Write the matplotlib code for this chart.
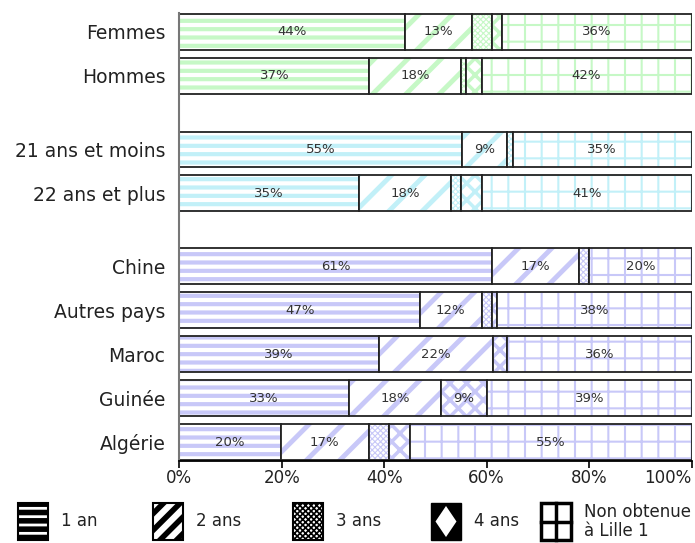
import numpy as np
import matplotlib
matplotlib.use('Agg')
import matplotlib.pyplot as plt
from matplotlib.patches import Rectangle, Polygon

plt.rcParams['font.family'] = ['DejaVu Sans']

# --- Donnees --- #
categories = ['Femmes', 'Hommes', '21 ans et moins', '22 ans et plus',
              'Chine', 'Autres pays', 'Maroc', 'Guinée', 'Algérie']
y_pos = [0, 1, 2.67, 3.67, 5.33, 6.33, 7.33, 8.33, 9.33]
groupe = [0, 0, 1, 1, 2, 2, 2, 2, 2]

duree = ['1 an', '2 ans', '3 ans', '4 ans', 'Non obtenue\nà Lille 1']

un_an = [44.0, 37.1, 55.1, 35.1, 61.0, 47.0, 39.0, 33.1, 19.8]
deux_ans = [13.1, 17.9, 8.9, 17.9, 17.1, 12.0, 22.2, 18.0, 17.2]
trois_ans = [4.0, 1.0, 1.1, 2.0, 1.9, 2.1, 0.0, 0.0, 4.0]
quatre_ans = [1.9, 3.0, 0.0, 4.1, 0.0, 1.0, 2.8, 9.0, 4.0]
non_obtenue = [37.0, 41.0, 34.9, 40.9, 20.0, 37.9, 36.0, 39.9, 55.0]

# etiquettes affichees dans les barres ('' = pas d'etiquette)
lab_un = ['44%', '37%', '55%', '35%', '61%', '47%', '39%', '33%', '20%']
lab_deux = ['13%', '18%', '9%', '18%', '17%', '12%', '22%', '18%', '17%']
lab_trois = ['', '', '', '', '', '', '', '', '']
lab_quatre = ['', '', '', '', '', '', '', '9%', '']
lab_non = ['36%', '42%', '35%', '41%', '20%', '38%', '36%', '39%', '55%']

xticks = [0, 20, 40, 60, 80, 100]
xticklabels = ['0%', '20%', '40%', '60%', '80%', '100%']

# --- Styles --- #
couleurs = ['#c6f8c6', '#c2f0f8', '#c8c8f8']
hatches = ['--', '/', 'xxxxxx', 'xx', '+']
hatch_lw = [3.0, 3.5, 0.8, 2.5, 1.5]

series = [un_an, deux_ans, trois_ans, quatre_ans, non_obtenue]
labels = [lab_un, lab_deux, lab_trois, lab_quatre, lab_non]

fig = plt.figure(figsize=(6.95, 5.43), dpi=100)
ax = fig.add_axes([0.258, 0.151, 0.737, 0.825])

bar_h = 0.81
left = np.zeros(len(categories))
for k, (vals, labs) in enumerate(zip(series, labels)):
    vals = np.array(vals)
    for i in range(len(categories)):
        if vals[i] <= 0:
            continue
        p = ax.barh(y_pos[i], vals[i], left=left[i], height=bar_h, color='white',
                    edgecolor=couleurs[groupe[i]], hatch=hatches[k], linewidth=0)
        for r in p:
            if hasattr(r, 'set_hatch_linewidth'):
                r.set_hatch_linewidth(hatch_lw[k])
        ax.barh(y_pos[i], vals[i], left=left[i], height=bar_h, fill=False,
                edgecolor='#222222', linewidth=1.3)
        if labs[i]:
            ax.text(left[i] + vals[i] / 2, y_pos[i], labs[i], ha='center', va='center',
                    fontsize=9.5, color='#333333')
    left += vals

ax.set_xlim(0, 100)
ax.set_ylim(9.76, -0.43)
ax.set_yticks(y_pos)
ax.set_yticklabels(categories, fontsize=13.5, color='#222222')
ax.tick_params(axis='y', length=0, pad=10)
ax.set_xticks(xticks)
ax.set_xticklabels(xticklabels, fontsize=12, color='#222222')
ax.get_xticklabels()[-1].set_horizontalalignment('right')
ax.tick_params(axis='x', length=5, width=1.2, pad=1)
ax.spines['top'].set_visible(False)
ax.spines['right'].set_visible(False)
ax.spines['left'].set_color('#777777')
ax.spines['left'].set_linewidth(1.5)
ax.spines['bottom'].set_linewidth(1.3)

# --- Legende (motifs noirs) --- #
W, H = 695.0, 543.0
leg_x = [18, 153, 293, 431, 541]
leg_hatch = ['--', '//', 'xxxxxx', None, None]
leg_lw = [4.0, 4.0, 1.2, 0, 0]
for k in range(5):
    x0 = leg_x[k] / W
    y0 = 1 - 540 / H
    w = 30 / W
    h = 37 / H
    if k == 3:
        fig.patches.append(Rectangle((x0, y0), w, h, transform=fig.transFigure,
                                     facecolor='black', edgecolor='black', linewidth=1))
        cx, cy = x0 + w / 2, y0 + h / 2
        fig.patches.append(Polygon([(cx, cy + h * 0.42), (cx + w * 0.35, cy),
                                    (cx, cy - h * 0.42), (cx - w * 0.35, cy)],
                                   closed=True, transform=fig.transFigure,
                                   facecolor='white', edgecolor='none'))
    elif k == 4:
        fig.patches.append(Rectangle((x0, y0), w, h, transform=fig.transFigure,
                                     facecolor='white', edgecolor='black', linewidth=2.5))
        fig.lines.append(plt.Line2D([x0 + w / 2, x0 + w / 2], [y0, y0 + h],
                                    transform=fig.transFigure, color='black', linewidth=2.5))
        fig.lines.append(plt.Line2D([x0, x0 + w], [y0 + h / 2, y0 + h / 2],
                                    transform=fig.transFigure, color='black', linewidth=2.5))
    else:
        r = Rectangle((x0, y0), w, h, transform=fig.transFigure, facecolor='white',
                      edgecolor='black', hatch=leg_hatch[k], linewidth=1.5)
        if hasattr(r, 'set_hatch_linewidth'):
            r.set_hatch_linewidth(leg_lw[k])
        fig.patches.append(r)
    fig.text(x0 + w + 13 / W, y0 + h / 2, duree[k], ha='left', va='center',
             fontsize=12, color='#222222', linespacing=1.05)

fig.savefig('out.png', dpi=100)
